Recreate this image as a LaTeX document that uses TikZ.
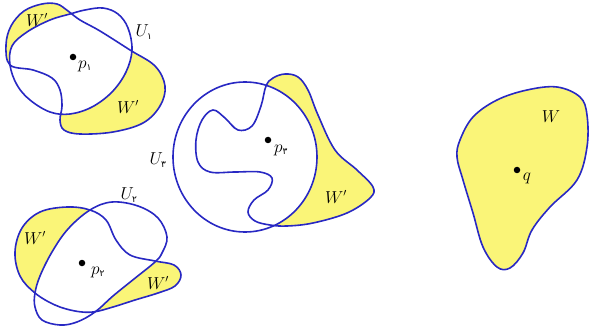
\documentclass[tikz,border=0pt]{standalone}
\usepackage{fontspec}
\newfontfamily\arabicfont[Script=Arabic]{DejaVu Sans}
\definecolor{lineblue}{RGB}{40,40,195}
\definecolor{wyellow}{RGB}{250,245,120}
\newcommand{\fadigit}[1]{\hbox{\arabicfont\fontsize{9}{9}\selectfont #1}}
\tikzset{
  wfill/.style={fill=wyellow},
  ufill/.style={fill=white},
  outline/.style={draw=lineblue, line width=1.6pt},
  dotpt/.style={circle, fill=black, inner sep=0pt, minimum size=6.5pt},
  lab/.style={font=\fontsize{16}{18}\selectfont, inner sep=1pt},
  blob/.style={smooth cycle, tension=0.6},
}
\begin{document}
\begin{tikzpicture}[x=1pt,y=-1pt]
\useasboundingbox (0,0) rectangle (590,329);
% ---------- cluster 1
\def\Wone{(10,65) (6,45) (11,26) (24,11) (42,4) (57,4) (68,11) (80,20) (100,31) (130,50) (155,66) (165,86) (160,106) (143,123) (113,132) (80,134) (64,130) (60,120) (62,106) (60,90) (52,78) (33,70)}
\def\Uone{(10,65) (12,46) (27,32) (50,20) (70,14) (85,10) (103,8) (118,14) (128,28) (132,50) (126,72) (112,92) (92,107) (70,114) (50,112) (30,100) (17,85)}
\fill[wfill] plot[blob] coordinates {\Wone};
\fill[ufill] plot[blob] coordinates {\Uone};
\draw[outline] plot[blob] coordinates {\Wone};
\draw[outline] plot[blob] coordinates {\Uone};
\node[dotpt] (p1) at (73,57) {};
\node[lab] (p1l) at (85,66) {$p_{\fadigit{۱}}$};
\node[lab] (u1l) at (144,32) {$U_{\fadigit{۱}}$};
\node[lab] (w1a) at (37,20) {$W'$};
\node[lab] (w1b) at (128,107) {$W'$};
% ---------- cluster 2
\def\Wtwo{(90,210) (67,207) (40,212) (22,228) (15,252) (20,276) (35,293) (55,305) (75,311) (93,312) (113,307) (135,300) (158,293) (175,286) (181,275) (174,265) (155,261) (130,255) (116,240) (106,220)}
\def\Utwo{(90,210) (112,202) (138,206) (158,218) (167,237) (162,253) (155,262) (134,279) (113,296) (95,312) (77,322) (60,325) (42,320) (35,307) (35,293) (40,276) (52,252) (68,229)}
\fill[wfill] plot[blob] coordinates {\Wtwo};
\fill[ufill] plot[blob] coordinates {\Utwo};
\draw[outline] plot[blob] coordinates {\Wtwo};
\draw[outline] plot[blob] coordinates {\Utwo};
\node[dotpt] (p2) at (82,263) {};
\node[lab] (p2l) at (98,272) {$p_{\fadigit{۲}}$};
\node[lab] (u2l) at (129,195) {$U_{\fadigit{۲}}$};
\node[lab] (w2a) at (35,238) {$W'$};
\node[lab] (w2b) at (158,283) {$W'$};
% ---------- cluster 3
\def\Wthree{(266,86) (273,78) (285,74) (298,77) (308,90) (318,115) (335,150) (357,170) (373,187) (370,198) (347,213) (313,223) (287,226) (270,225) (255,221) (248,212) (254,200) (268,190) (272,178) (260,172) (235,172) (210,172) (198,162) (196,140) (202,120) (213,110) (225,118) (238,130) (252,126) (261,106)}
\fill[wfill] plot[blob] coordinates {\Wthree};
\fill[ufill] (245,157) ellipse [x radius=72, y radius=75];
\draw[outline] plot[blob] coordinates {\Wthree};
\draw[outline] (245,157) ellipse [x radius=72, y radius=75];
\node[dotpt] (p3) at (268,140) {};
\node[lab] (p3l) at (281,150) {$p_{\fadigit{۳}}$};
\node[lab] (u3l) at (158,160) {$U_{\fadigit{۳}}$};
\node[lab] (w3) at (336,197) {$W'$};
% ---------- cluster 4
\def\Wfour{(460,140) (473,117) (497,100) (527,90) (557,87) (580,97) (587,115) (587,147) (577,180) (550,207) (532,230) (523,253) (510,268) (497,267) (483,247) (473,213) (463,180) (457,157)}
\fill[wfill] plot[blob] coordinates {\Wfour};
\draw[outline] plot[blob] coordinates {\Wfour};
\node[dotpt] (q) at (517,170) {};
\node[lab] (ql) at (527,178) {$q$};
\node[lab] (wl) at (551,117) {$W$};
\end{tikzpicture}
\end{document}
